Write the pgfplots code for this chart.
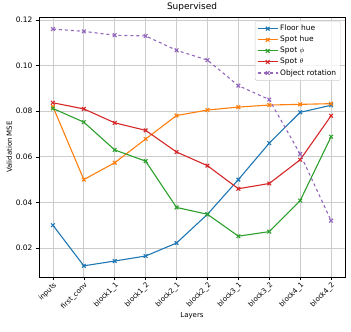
\documentclass[border=0pt]{standalone}
\usepackage{pgfplots}
\pgfplotsset{compat=1.18}
\usepackage{fontspec}
\setmainfont{DejaVu Sans}
\definecolor{tbblue}{HTML}{1F77B4}
\definecolor{tborange}{HTML}{FF7F0E}
\definecolor{tbgreen}{HTML}{2CA02C}
\definecolor{tbred}{HTML}{D62728}
\definecolor{tbpurple}{HTML}{9467BD}
\begin{document}
\begin{tikzpicture}[x=1bp,y=1bp]
\useasboundingbox (0,0) rectangle (351bp,332bp);
\begin{axis}[
  at={(39bp,55bp)}, anchor=south west,
  scale only axis, width=306bp, height=260bp,
  xmin=-0.45, xmax=9.45, ymin=0.0073, ymax=0.1213,
  xtick={0,...,9},
  xticklabels={inputs,first\_conv,block1\_1,block1\_2,block2\_1,block2\_2,block3\_1,block3\_2,block4\_1,block4\_2},
  xticklabel style={rotate=45, anchor=north east, font=\fontsize{7}{8}\selectfont, inner sep=1bp},
  ytick={0.02,0.04,0.06,0.08,0.10,0.12},
  yticklabel style={/pgf/number format/fixed, /pgf/number format/fixed zerofill, /pgf/number format/precision=2, font=\fontsize{7.5}{8}\selectfont},
  /pgf/number format/assume math mode=true,
  scaled y ticks=false,
  grid=major, major grid style={color=black!20, line width=0.7bp},
  tick style={black, line width=0.6bp}, tick align=outside, major tick length=3bp,
  xtick pos=bottom, ytick pos=left,
  axis line style={line width=0.7bp},
  title={Supervised}, title style={font=\fontsize{9}{10}\selectfont, yshift=-4bp},
  xlabel={Layers}, ylabel={Validation MSE},
  xlabel style={font=\fontsize{7}{8}\selectfont, yshift=3bp},
  ylabel style={font=\fontsize{7}{8}\selectfont, yshift=-3bp},
  legend style={font=\fontsize{7.5}{9}\selectfont, draw=black!20, rounded corners=1.5bp, fill=white, fill opacity=0.8, text opacity=1, row sep=0bp, inner sep=2bp, at={(0.985,0.985)}, anchor=north east},
  legend cell align=left,
  legend image code/.code={\draw[mark repeat=2, mark phase=2, #1] plot coordinates {(0bp,0bp) (10bp,0bp) (20bp,0bp)};},
  every axis plot/.append style={line width=1.1bp, mark=x, mark size=2.6bp, mark options={solid}},
]
\addplot[tbblue] coordinates {(0,0.0300) (1,0.0122) (2,0.0143) (3,0.0165) (4,0.0222) (5,0.0348) (6,0.0500) (7,0.0660) (8,0.0795) (9,0.0826)};
\addlegendentry{Floor hue}
\addplot[tborange] coordinates {(0,0.0820) (1,0.0500) (2,0.0574) (3,0.0678) (4,0.0781) (5,0.0805) (6,0.0818) (7,0.0827) (8,0.0830) (9,0.0833)};
\addlegendentry{Spot hue}
\addplot[tbgreen] coordinates {(0,0.0812) (1,0.0752) (2,0.0630) (3,0.0581) (4,0.0378) (5,0.0348) (6,0.0252) (7,0.0272) (8,0.0408) (9,0.0688)};
\addlegendentry{Spot $\phi$}
\addplot[tbred] coordinates {(0,0.0837) (1,0.0810) (2,0.0749) (3,0.0716) (4,0.0621) (5,0.0561) (6,0.0460) (7,0.0483) (8,0.0587) (9,0.0780)};
\addlegendentry{Spot $\theta$}
\addplot[tbpurple, dashed] coordinates {(0,0.1160) (1,0.1150) (2,0.1133) (3,0.1130) (4,0.1067) (5,0.1024) (6,0.0912) (7,0.0851) (8,0.0612) (9,0.0320)};
\addlegendentry{Object rotation}
\end{axis}
\end{tikzpicture}
\end{document}
